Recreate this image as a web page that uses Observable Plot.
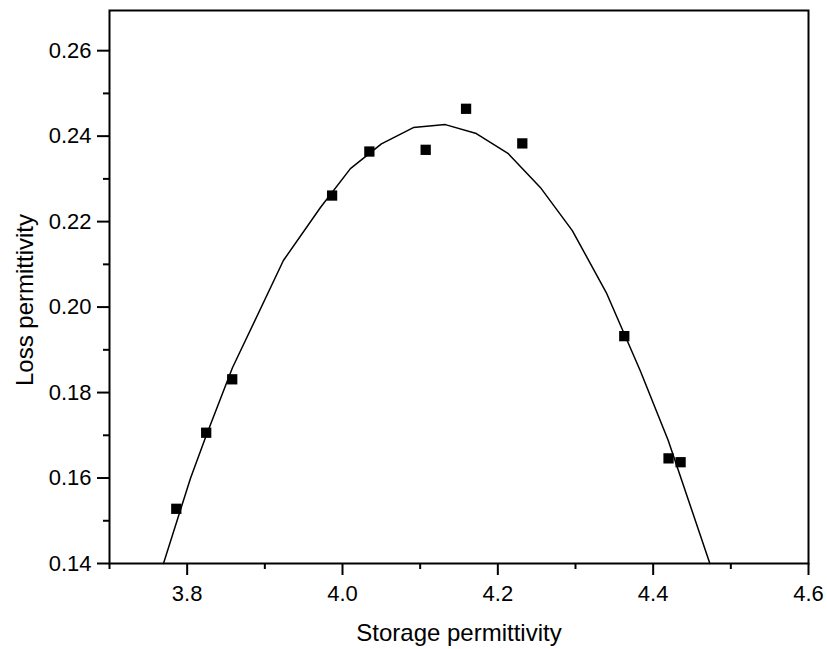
<!DOCTYPE html>
<html>
<head>
<meta charset="utf-8">
<script src="https://cdn.jsdelivr.net/npm/d3@7"></script>
<script src="https://cdn.jsdelivr.net/npm/@observablehq/plot@0.6"></script>
<style>
  html, body { margin: 0; padding: 0; background: #fff; }
  #chart { width: 827px; height: 649px; }
</style>
</head>
<body>
<div id="chart"></div>
<script>
// Measured points
const storage = [3.786, 3.8245, 3.858, 3.9866, 4.0346, 4.1071, 4.1591, 4.2315, 4.3628, 4.4198, 4.4353];
const loss    = [0.1528, 0.1706, 0.1831, 0.2261, 0.2364, 0.2368, 0.2464, 0.2383, 0.1932, 0.1646, 0.1637];

// Fitted curve (polyline vertices)
const fitStorage = [3.7695, 3.8042, 3.8236, 3.8583, 3.9239, 3.9716, 4.0102, 4.0501, 4.0912, 4.1324, 4.1723, 4.2135, 4.2547, 4.2959, 4.3396, 4.3834, 4.4194, 4.4730];
const fitLoss    = [0.1400, 0.1599, 0.1695, 0.1858, 0.2109, 0.2233, 0.2324, 0.2382, 0.2420, 0.2427, 0.2406, 0.2359, 0.2280, 0.2179, 0.2034, 0.1851, 0.1688, 0.1400];

// Ticks
const xMajor = [3.8, 4.0, 4.2, 4.4, 4.6];
const xMinor = [3.7, 3.9, 4.1, 4.3, 4.5];
const yMajor = [0.14, 0.16, 0.18, 0.20, 0.22, 0.24, 0.26];
const yMinor = [0.15, 0.17, 0.19, 0.21, 0.23, 0.25];

const xTitle = "Storage permittivity";
const yTitle = "Loss permittivity";

const points = storage.map((s, i) => ({s, l: loss[i]}));
const fit = fitStorage.map((s, i) => ({s, l: fitLoss[i]}));

const font = "Liberation Sans, Arial, Helvetica, sans-serif";

const chart = Plot.plot({
  width: 827,
  height: 649,
  marginLeft: 109,
  marginRight: 19,
  marginTop: 10,
  marginBottom: 86,
  style: {fontFamily: font, fontSize: "22px", color: "#000", background: "#fff"},
  x: {domain: [3.7, 4.6]},
  y: {domain: [0.14, 0.2694]},
  marks: [
    Plot.axisX(xMajor, {tickSize: 12, tickPadding: 10, strokeWidth: 2, fontSize: 22, tickFormat: d3.format(".1f"), label: null}),
    Plot.axisX(xMinor, {tickSize: 6, strokeWidth: 2, tickFormat: () => "", label: null}),
    Plot.axisY(yMajor, {tickSize: 12, tickPadding: 6, strokeWidth: 2, fontSize: 22, tickFormat: d3.format(".2f"), label: null}),
    Plot.axisY(yMinor, {tickSize: 6, strokeWidth: 2, tickFormat: () => "", label: null}),
    Plot.frame({stroke: "#000", strokeWidth: 2}),
    Plot.line(fit, {x: "s", y: "l", stroke: "#000", strokeWidth: 1.5}),
    Plot.dot(points, {x: "s", y: "l", symbol: "square", r: 5.8, fill: "#000", stroke: "none"}),
    Plot.text([xTitle], {frameAnchor: "bottom", text: d => d, dy: 77, lineAnchor: "bottom", textAnchor: "middle", fontSize: 24, fill: "#000"}),
    Plot.text([yTitle], {frameAnchor: "left", text: d => d, dx: -77, dy: 13, rotate: -90, lineAnchor: "bottom", textAnchor: "middle", fontSize: 24, fill: "#000"})
  ]
});
document.getElementById("chart").appendChild(chart);
</script>
</body>
</html>
